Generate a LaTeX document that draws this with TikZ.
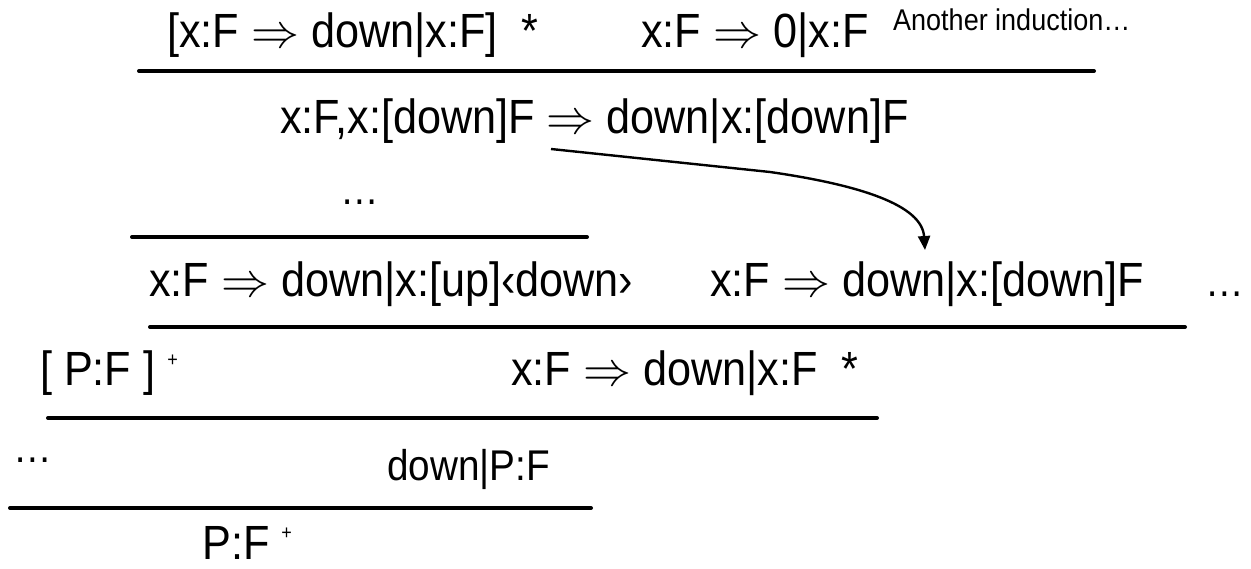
\documentclass[tikz,border=0pt]{standalone}
\usepackage{fix-cm}
\usepackage{fontspec}
\setmainfont{Liberation Sans}[FakeStretch=0.9]
\usetikzlibrary{arrows.meta}
\newcommand{\imp}{\ensuremath{\Rightarrow}}
\newcommand{\supplus}{\raisebox{20pt}{\fontsize{20}{24}\selectfont +}}
\begin{document}
\begin{tikzpicture}[x=1pt,y=1pt,
  txt/.style={anchor=base west,inner sep=0pt,font=\fontsize{48}{56}\selectfont},
  txtsm/.style={anchor=base west,inner sep=0pt,font=\fontsize{43}{50}\selectfont},
  note/.style={anchor=base west,inner sep=0pt,font=\fontsize{30}{34}\selectfont},
  rule/.style={line width=4pt,line cap=round},
  link/.style={line width=2.4pt,-{Triangle[width=12pt,length=14pt]}}]
\useasboundingbox (0,0) rectangle (1251,-569);
% row 1
\node[txt] (r1a) at (167,-48) {[x:F \imp{} down|x:F]\ \ *};
\node[txt] (r1b) at (641,-48) {x:F \imp{} 0|x:F};
\node[note] (nt) at (893,-31) {Another induction…};
\draw[rule] (139,-71) -- (1094,-71);
% row 2
\node[txt] (r2) at (280,-134) {x:F,x:[down]F \imp{} down|x:[down]F};
\node[txtsm] (d1) at (340,-205) {…};
\draw[rule] (132,-237) -- (587,-237);
% row 3
\node[txt] (r3a) at (149,-297) {x:F \imp{} down|x:[up]‹down›};
\node[txt] (r3b) at (710,-297) {x:F \imp{} down|x:[down]F};
\node[txtsm] (d2) at (1205,-297) {…};
\draw[rule] (150,-327) -- (1185,-327);
% row 4
\node[txt] (r4a) at (40,-386) {[ P:F ] \supplus};
\node[txt] (r4b) at (511,-386) {x:F \imp{} down|x:F \ *};
\draw[rule] (48,-418) -- (877,-418);
% row 5
\node[txtsm] (d3) at (13,-462) {…};
\node[txtsm] (r5) at (387,-480) {down|P:F};
\draw[rule] (10,-508) -- (591,-508);
% row 6
\node[txt] (r6) at (202,-559) {P:F \supplus};
% arrow
\coordinate (s) at (551,-149);
\coordinate (m) at (770,-172);
\coordinate (e) at (925,-250);
\draw[link] (s) -- (m) .. controls (860,-185) and (922,-205) .. (e);
\end{tikzpicture}
\end{document}
